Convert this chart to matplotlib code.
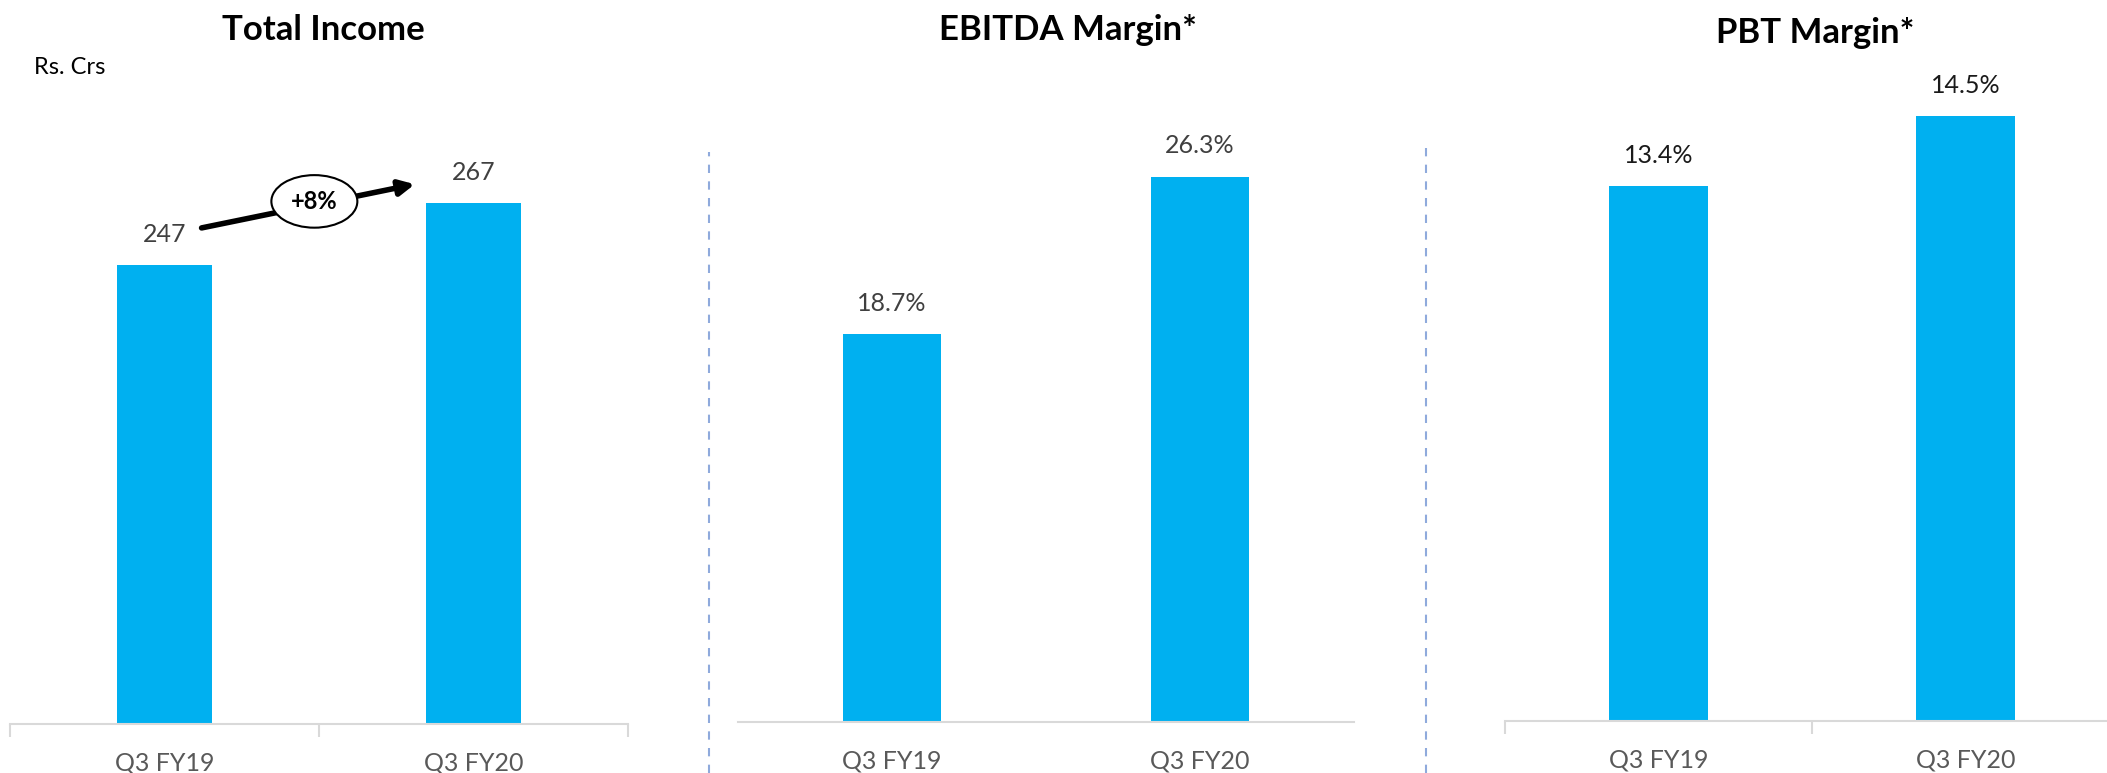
import matplotlib
matplotlib.use("Agg")
import matplotlib.pyplot as plt
from matplotlib.lines import Line2D

plt.rcParams['font.family'] = ['Lato', 'DejaVu Sans']

W, H = 2107, 773

categories = ["Q3 FY19", "Q3 FY20"]
income = [247, 267]
ebitda_margin = [18.7, 26.3]
pbt_margin = [13.4, 14.5]
growth_label = "+8%"

BAR = "#00B0F0"
AXIS = "#D9D9D9"
SEP = "#8FAADC"
VAL = "#404040"
TICK = "#595959"


def px_axes(fig, left, top, right, bottom):
    return fig.add_axes([left / W, 1 - bottom / H, (right - left) / W, (bottom - top) / H])


def bar_panel(ax, values, ylim, fmt, width, ticks=True, val_color=VAL):
    x = range(len(values))
    ax.bar(x, values, width=width, color=BAR, zorder=2)
    ax.set_xlim(-0.5, len(values) - 0.5)
    ax.set_ylim(*ylim)
    for s in ["top", "right", "left"]:
        ax.spines[s].set_visible(False)
    ax.spines["bottom"].set_color(AXIS)
    ax.spines["bottom"].set_linewidth(1.5)
    ax.set_yticks([])
    ax.set_xticks(list(x))
    ax.set_xticklabels(categories, fontsize=18, color=TICK)
    ax.tick_params(axis="x", which="major", length=0, pad=20)
    if ticks:
        ax.set_xticks([i - 0.5 for i in range(len(values) + 1)], minor=True)
        ax.tick_params(axis="x", which="minor", length=9, width=1.5, color=AXIS, direction="out")
    for i, v in enumerate(values):
        ax.annotate(fmt.format(v), (i, v), xytext=(0, 14), textcoords="offset points",
                    ha="center", va="bottom", fontsize=18, color=val_color)


fig = plt.figure(figsize=(W / 100, H / 100), dpi=100)

ax1 = px_axes(fig, 10, 100, 628, 724)
bar_panel(ax1, income, (100, 300), "{:.0f}", 0.31)
ax2 = px_axes(fig, 738, 100, 1354, 722)
bar_panel(ax2, ebitda_margin, (0, 30), "{:.1f}%", 0.315, ticks=False)
ax3 = px_axes(fig, 1505, 21, 2119, 721)
bar_panel(ax3, pbt_margin, (5, 16), "{:.1f}%", 0.32, val_color="#1a1a1a")

# growth arrow between the two income bars
x0, y0 = 0.12, income[0] + 12
x1, y1 = 0.81, income[1] + 6
ax1.annotate("", xy=(x1, y1), xytext=(x0, y0),
             arrowprops=dict(arrowstyle="-|>,head_length=0.9,head_width=0.45",
                             color="black", lw=4, shrinkA=0, shrinkB=0))
ax1.text((x0 + x1) / 2 + 0.02, (y0 + y1) / 2 + 1.5, growth_label, ha="center", va="center",
         fontsize=17, fontweight="bold", color="black",
         bbox=dict(boxstyle="ellipse,pad=0.3", fc="white", ec="black", lw=1.5))

# panel titles
fig.text(323 / W, 1 - 30 / H, "Total Income", ha="center", va="center", fontsize=25, fontweight="bold")
fig.text(1068 / W, 1 - 30 / H, "EBITDA Margin*", ha="center", va="center", fontsize=25, fontweight="bold")
fig.text(1815 / W, 1 - 33 / H, "PBT Margin*", ha="center", va="center", fontsize=25, fontweight="bold")
fig.text(34 / W, 1 - 67 / H, "Rs. Crs", ha="left", va="center", fontsize=17)

# dashed separators between panels
for xs, ytop in [(709, 152), (1426, 143)]:
    fig.add_artist(Line2D([xs / W, xs / W], [0, 1 - ytop / H], color=SEP, lw=1.5,
                          linestyle=(0, (4, 4))))

fig.savefig("out.png", dpi=100)
